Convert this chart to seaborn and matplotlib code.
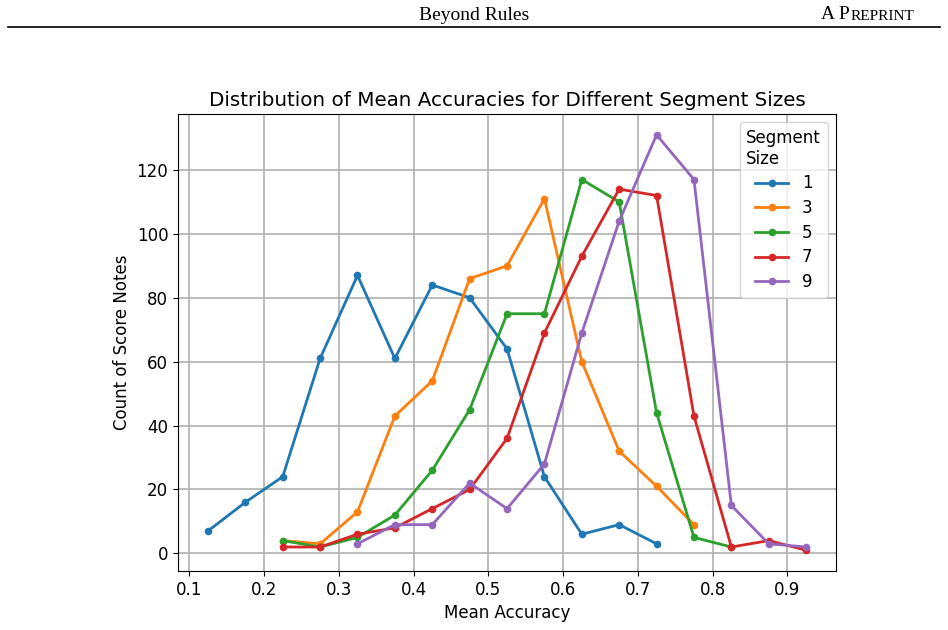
import numpy as np
import pandas as pd
import matplotlib
matplotlib.use('Agg')
import matplotlib.pyplot as plt
import seaborn as sns
from matplotlib.lines import Line2D

# bin centres of mean accuracy and counts per segment size
seg_sizes = [1, 3, 5, 7, 9]
acc_1 = [0.125, 0.175, 0.225, 0.275, 0.325, 0.375, 0.425, 0.475, 0.525, 0.575, 0.625, 0.675, 0.725]
cnt_1 = [7, 16, 24, 61, 87, 61, 84, 80, 64, 24, 6, 9, 3]
acc_3 = [0.225, 0.275, 0.325, 0.375, 0.425, 0.475, 0.525, 0.575, 0.625, 0.675, 0.725, 0.775]
cnt_3 = [4, 3, 13, 43, 54, 86, 90, 111, 60, 32, 21, 9]
acc_5 = [0.225, 0.275, 0.325, 0.375, 0.425, 0.475, 0.525, 0.575, 0.625, 0.675, 0.725, 0.775, 0.825]
cnt_5 = [4, 2, 5, 12, 26, 45, 75, 75, 117, 110, 44, 5, 2]
acc_7 = [0.225, 0.275, 0.325, 0.375, 0.425, 0.475, 0.525, 0.575, 0.625, 0.675, 0.725, 0.775, 0.825, 0.875, 0.925]
cnt_7 = [2, 2, 6, 8, 14, 20, 36, 69, 93, 114, 112, 43, 2, 4, 1]
acc_9 = [0.325, 0.375, 0.425, 0.475, 0.525, 0.575, 0.625, 0.675, 0.725, 0.775, 0.825, 0.875, 0.925]
cnt_9 = [3, 9, 9, 22, 14, 28, 69, 104, 131, 117, 15, 3, 2]

accs = [acc_1, acc_3, acc_5, acc_7, acc_9]
cnts = [cnt_1, cnt_3, cnt_5, cnt_7, cnt_9]
rows = []
for s, a, c in zip(seg_sizes, accs, cnts):
    for xv, yv in zip(a, c):
        rows.append({'Mean Accuracy': xv, 'Count': yv, 'Segment Size': str(s)})
df = pd.DataFrame(rows)

colors = sns.color_palette('tab10', 5)

fig = plt.figure(figsize=(9.48, 6.3), dpi=100)
ax = fig.add_axes([0.1878, 0.0937, 0.6941, 0.7253])

sns.lineplot(data=df, x='Mean Accuracy', y='Count', hue='Segment Size',
             palette=colors, marker='o', markersize=5.5, markeredgewidth=0,
             linewidth=2, ax=ax, legend=False)

ax.grid(True, color='#b0b0b0', linewidth=1.2)
ax.set_axisbelow(True)
ax.set_xticks([0.1, 0.2, 0.3, 0.4, 0.5, 0.6, 0.7, 0.8, 0.9])
ax.tick_params(labelsize=12)
ax.set_xlabel('Mean Accuracy', fontsize=12)
ax.set_ylabel('Count of Score Notes', fontsize=12)
ax.set_title('Distribution of Mean Accuracies for Different Segment Sizes', fontsize=14.3, pad=6)

handles = [Line2D([], [], color=c, marker='o', markersize=5.5, markeredgewidth=0, linewidth=2)
           for c in colors]
ax.legend(handles, [str(s) for s in seg_sizes], title='Segment\nSize', loc='upper right',
          fontsize=12, title_fontsize=12, labelspacing=0.4)

# page header
fig.text(0.5, 0.968, 'Beyond Rules', ha='center', va='baseline',
         family='Liberation Serif', fontsize=14)
t2 = fig.text(0.964, 0.968, 'REPRINT', ha='right', va='baseline',
              family='Liberation Serif', fontsize=11)
ax.annotate('A P', xy=(0, 0), xycoords=t2, ha='right', va='bottom',
            family='Liberation Serif', fontsize=14, annotation_clip=False)
fig.add_artist(Line2D([0.008, 0.992], [0.957, 0.957], color='black', linewidth=1.2,
                      transform=fig.transFigure))

fig.savefig('out.png', dpi=100)
